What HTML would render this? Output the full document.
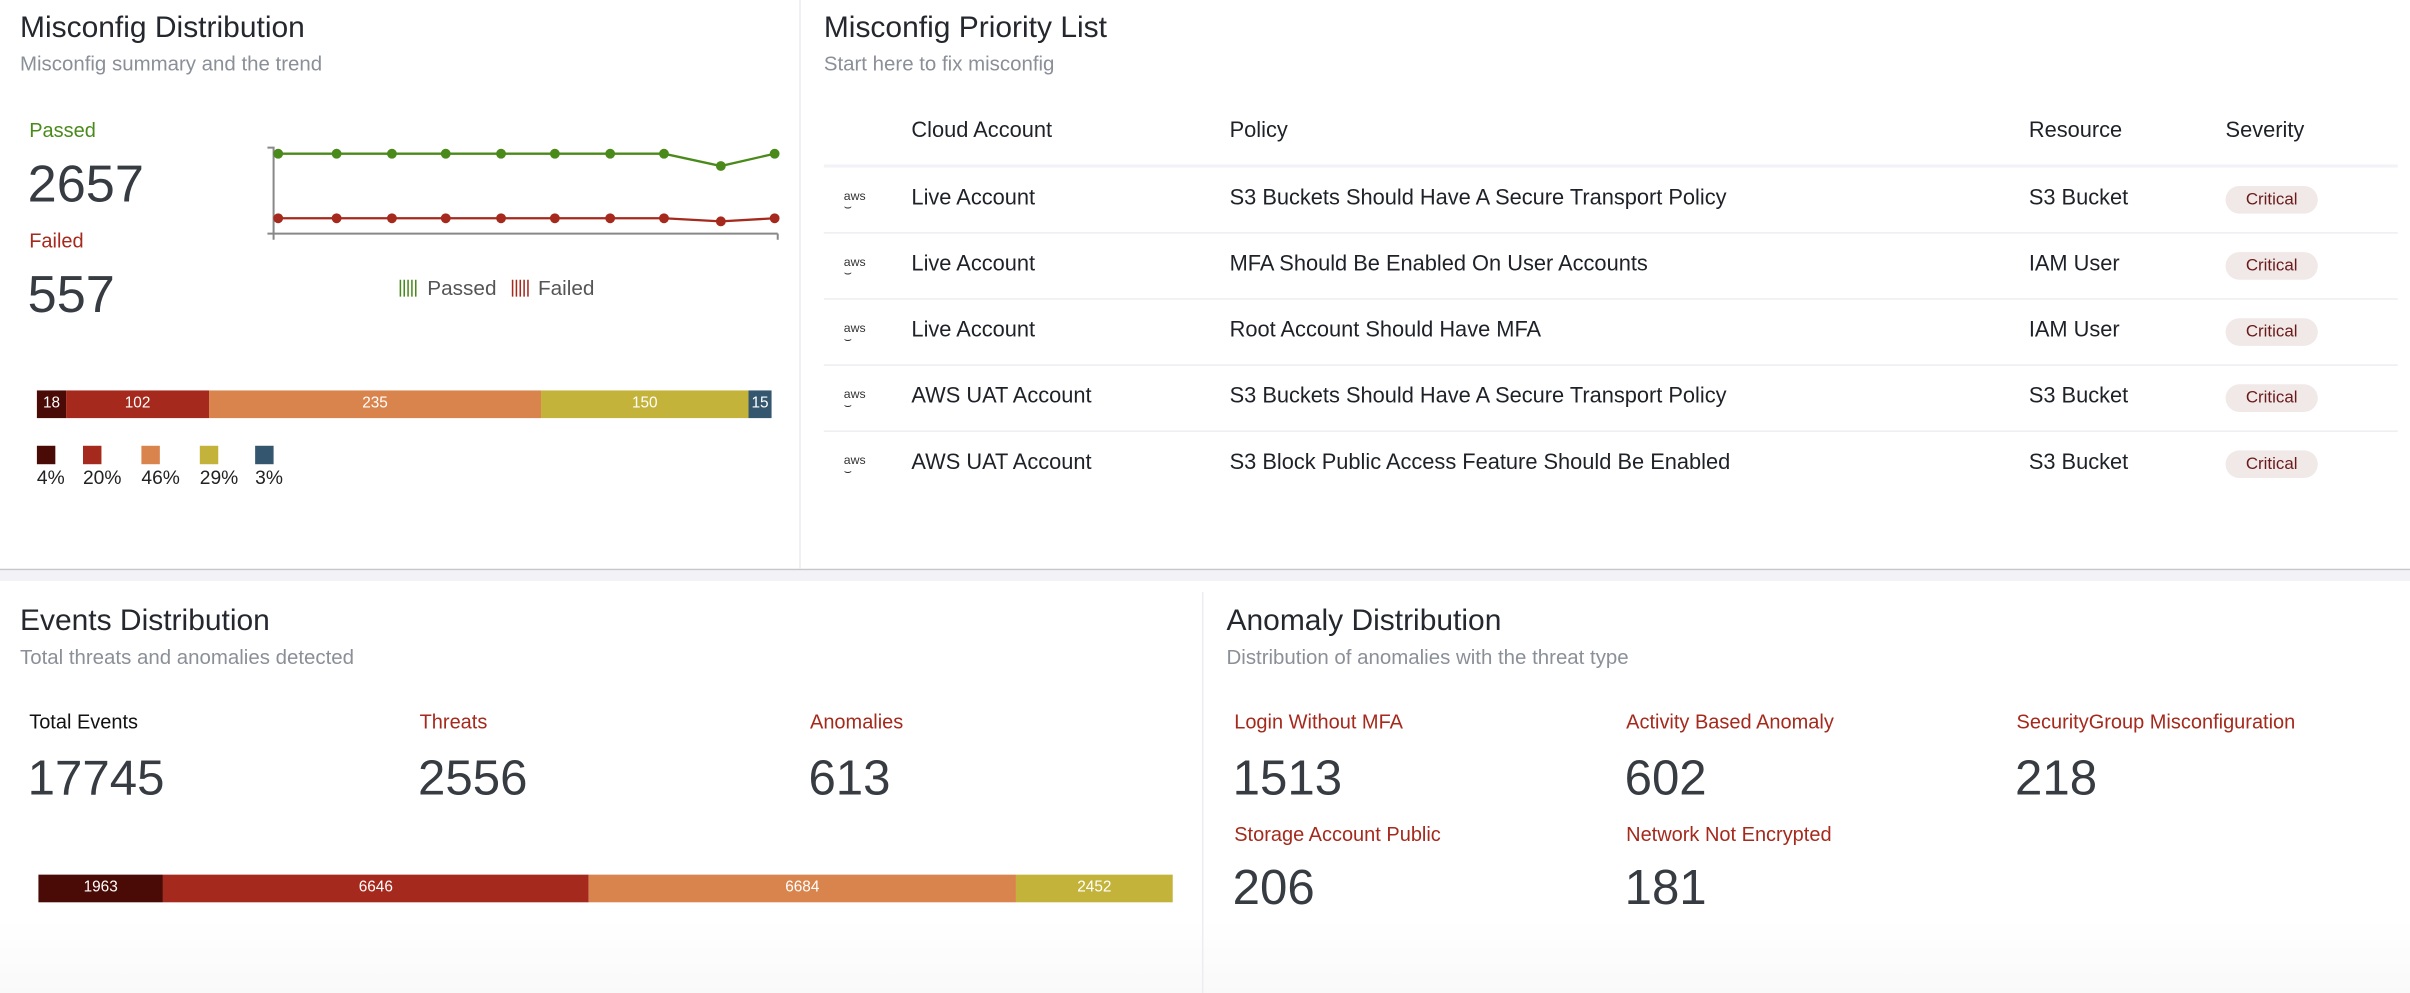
<!DOCTYPE html>
<html><head><meta charset="utf-8"><style>
html,body{margin:0;padding:0;width:2410px;height:993px;overflow:hidden;background:#fff}
#w{position:absolute;left:0;top:0;width:1568px;height:646px;transform:scale(1.53699,1.53715);transform-origin:0 0;font-family:"Liberation Sans",sans-serif;color:#2b2f36}
.a{position:absolute;white-space:nowrap}
.t{font-size:19.5px;color:#24282e}
.s{font-size:13.3px;color:#8a8f98}
.big{font-size:34px;color:#373b42}
.lbl{font-size:13px}
.r{color:#a5291c}
.seg{position:absolute;top:0;height:100%;color:#fff;font-size:10px;text-align:center;line-height:18px}
.th{font-size:14.2px;color:#1e2228}
.td{font-size:14.2px;color:#1e2228}
.bd{position:absolute;left:1448px;width:60px;height:18px;border-radius:9px;background:#f1e8e8;color:#6b1a1a;font-size:11px;text-align:center;line-height:18px}
.aws{position:absolute;left:549px;font-size:8px;color:#333;line-height:7px}
.hl{position:absolute;left:536px;width:1024px;height:1px;background:#eeeef2}
</style></head><body><div id="w">
<div class="a" style="left:0;top:0;width:1568px;height:370px;background:#fff;border-bottom:1px solid #c6c6cc;box-shadow:0 1px 2px rgba(0,0,0,.12)"></div>
<div class="a" style="left:0;top:371px;width:1568px;height:7px;background:#f3f3f7"></div>
<div class="a" style="left:520px;top:0;width:1px;height:370px;background:#ececf0"></div>
<div class="a" style="left:0;top:378px;width:1568px;height:268px;background:linear-gradient(#fff 0,#fff 220px,#f9f9fa 268px)"></div>
<div class="a" style="left:782px;top:385px;width:1px;height:261px;background:#ededf0"></div>

<div class="a t" style="left:13px;top:7px">Misconfig Distribution</div>
<div class="a s" style="left:13px;top:34px">Misconfig summary and the trend</div>
<div class="a lbl" style="left:19px;top:77px;color:#4a8a1a">Passed</div>
<div class="a big" style="left:18px;top:101px">2657</div>
<div class="a lbl r" style="left:19px;top:149px">Failed</div>
<div class="a big" style="left:18px;top:173px">557</div>

<svg class="a" style="left:0;top:0" width="520" height="200">
<path d="M174 96H178V152M174 152H506M178 152V156M506 152V156" fill="none" stroke="#888" stroke-width="1.3"/>
<polyline points="181,100 219,100 255,100 290,100 326,100 361,100 397,100 432,100 469,108 504,100" fill="none" stroke="#4a8a1a" stroke-width="1.5"/>
<polyline points="181,142 219,142 255,142 290,142 326,142 361,142 397,142 432,142 469,144 504,142" fill="none" stroke="#a5291c" stroke-width="1.5"/>
<g fill="#4a8a1a"><circle cx="181" cy="100" r="3.2"/><circle cx="219" cy="100" r="3.2"/><circle cx="255" cy="100" r="3.2"/><circle cx="290" cy="100" r="3.2"/><circle cx="326" cy="100" r="3.2"/><circle cx="361" cy="100" r="3.2"/><circle cx="397" cy="100" r="3.2"/><circle cx="432" cy="100" r="3.2"/><circle cx="469" cy="108" r="3.2"/><circle cx="504" cy="100" r="3.2"/></g>
<g fill="#a5291c"><circle cx="181" cy="142" r="3.2"/><circle cx="219" cy="142" r="3.2"/><circle cx="255" cy="142" r="3.2"/><circle cx="290" cy="142" r="3.2"/><circle cx="326" cy="142" r="3.2"/><circle cx="361" cy="142" r="3.2"/><circle cx="397" cy="142" r="3.2"/><circle cx="432" cy="142" r="3.2"/><circle cx="469" cy="144" r="3.2"/><circle cx="504" cy="142" r="3.2"/></g>
<g stroke="#4a8a1a" stroke-width="1"><path d="M260.5 182V193M263 182V193M265.5 182V193M268 182V193M270.5 182V193"/></g>
<g stroke="#a5291c" stroke-width="1"><path d="M333.5 182V193M336 182V193M338.5 182V193M341 182V193M343.5 182V193"/></g>
</svg>
<div class="a" style="left:278px;top:180px;font-size:13.5px;color:#555">Passed</div>
<div class="a" style="left:350px;top:180px;font-size:13.5px;color:#555">Failed</div>

<div class="a" style="left:24px;top:254px;width:478px;height:18px">
<div class="seg" style="left:0;width:19px;background:#4a0a05">18</div>
<div class="seg" style="left:19px;width:93px;background:#a5291c">102</div>
<div class="seg" style="left:112px;width:216px;background:#d9844d">235</div>
<div class="seg" style="left:328px;width:135px;background:#c4b33a">150</div>
<div class="seg" style="left:463px;width:15px;background:#34566e">15</div>
</div>
<div class="a" style="left:24px;top:290px;width:12px;height:12px;background:#4a0a05"></div>
<div class="a" style="left:54px;top:290px;width:12px;height:12px;background:#a5291c"></div>
<div class="a" style="left:92px;top:290px;width:12px;height:12px;background:#d9844d"></div>
<div class="a" style="left:130px;top:290px;width:12px;height:12px;background:#c4b33a"></div>
<div class="a" style="left:166px;top:290px;width:12px;height:12px;background:#34566e"></div>
<div class="a" style="left:24px;top:304px;font-size:12.5px;color:#222">4%</div>
<div class="a" style="left:54px;top:304px;font-size:12.5px;color:#222">20%</div>
<div class="a" style="left:92px;top:304px;font-size:12.5px;color:#222">46%</div>
<div class="a" style="left:130px;top:304px;font-size:12.5px;color:#222">29%</div>
<div class="a" style="left:166px;top:304px;font-size:12.5px;color:#222">3%</div>

<div class="a t" style="left:536px;top:7px">Misconfig Priority List</div>
<div class="a s" style="left:536px;top:34px">Start here to fix misconfig</div>
<div class="a th" style="left:593px;top:77px">Cloud Account</div>
<div class="a th" style="left:800px;top:77px">Policy</div>
<div class="a th" style="left:1320px;top:77px">Resource</div>
<div class="a th" style="left:1448px;top:77px">Severity</div>
<div class="a" style="left:536px;top:107px;width:1024px;height:2px;background:#f2f2f7"></div>
<div class="hl" style="top:151px"></div><div class="hl" style="top:194px"></div><div class="hl" style="top:237px"></div><div class="hl" style="top:280px"></div>

<div class="aws" style="top:124px">aws<br>⌣</div>
<div class="a td" style="left:593px;top:121px">Live Account</div>
<div class="a td" style="left:800px;top:121px">S3 Buckets Should Have A Secure Transport Policy</div>
<div class="a td" style="left:1320px;top:121px">S3 Bucket</div>
<div class="bd" style="top:121px">Critical</div>

<div class="aws" style="top:167px">aws<br>⌣</div>
<div class="a td" style="left:593px;top:164px">Live Account</div>
<div class="a td" style="left:800px;top:164px">MFA Should Be Enabled On User Accounts</div>
<div class="a td" style="left:1320px;top:164px">IAM User</div>
<div class="bd" style="top:164px">Critical</div>

<div class="aws" style="top:210px">aws<br>⌣</div>
<div class="a td" style="left:593px;top:207px">Live Account</div>
<div class="a td" style="left:800px;top:207px">Root Account Should Have MFA</div>
<div class="a td" style="left:1320px;top:207px">IAM User</div>
<div class="bd" style="top:207px">Critical</div>

<div class="aws" style="top:253px">aws<br>⌣</div>
<div class="a td" style="left:593px;top:250px">AWS UAT Account</div>
<div class="a td" style="left:800px;top:250px">S3 Buckets Should Have A Secure Transport Policy</div>
<div class="a td" style="left:1320px;top:250px">S3 Bucket</div>
<div class="bd" style="top:250px">Critical</div>

<div class="aws" style="top:296px">aws<br>⌣</div>
<div class="a td" style="left:593px;top:293px">AWS UAT Account</div>
<div class="a td" style="left:800px;top:293px">S3 Block Public Access Feature Should Be Enabled</div>
<div class="a td" style="left:1320px;top:293px">S3 Bucket</div>
<div class="bd" style="top:293px">Critical</div>

<div class="a t" style="left:13px;top:393px">Events Distribution</div>
<div class="a s" style="left:13px;top:420px">Total threats and anomalies detected</div>
<div class="a lbl" style="left:19px;top:462px;color:#111">Total Events</div>
<div class="a lbl r" style="left:273px;top:462px">Threats</div>
<div class="a lbl r" style="left:527px;top:462px">Anomalies</div>
<div class="a big" style="left:18px;top:488px;font-size:32px">17745</div>
<div class="a big" style="left:272px;top:488px;font-size:32px">2556</div>
<div class="a big" style="left:526px;top:488px;font-size:32px">613</div>
<div class="a" style="left:25px;top:569px;width:738px;height:18px">
<div class="seg" style="left:0;width:81px;background:#4a0a05">1963</div>
<div class="seg" style="left:81px;width:277px;background:#a5291c">6646</div>
<div class="seg" style="left:358px;width:278px;background:#d9844d">6684</div>
<div class="seg" style="left:636px;width:102px;background:#c4b33a">2452</div>
</div>

<div class="a t" style="left:798px;top:393px">Anomaly Distribution</div>
<div class="a s" style="left:798px;top:420px">Distribution of anomalies with the threat type</div>
<div class="a lbl r" style="left:803px;top:462px">Login Without MFA</div>
<div class="a lbl r" style="left:1058px;top:462px">Activity Based Anomaly</div>
<div class="a lbl r" style="left:1312px;top:462px">SecurityGroup Misconfiguration</div>
<div class="a big" style="left:802px;top:488px;font-size:32px">1513</div>
<div class="a big" style="left:1057px;top:488px;font-size:32px">602</div>
<div class="a big" style="left:1311px;top:488px;font-size:32px">218</div>
<div class="a lbl r" style="left:803px;top:535px">Storage Account Public</div>
<div class="a lbl r" style="left:1058px;top:535px">Network Not Encrypted</div>
<div class="a big" style="left:802px;top:559px;font-size:32px">206</div>
<div class="a big" style="left:1057px;top:559px;font-size:32px">181</div>
</div></body></html>
